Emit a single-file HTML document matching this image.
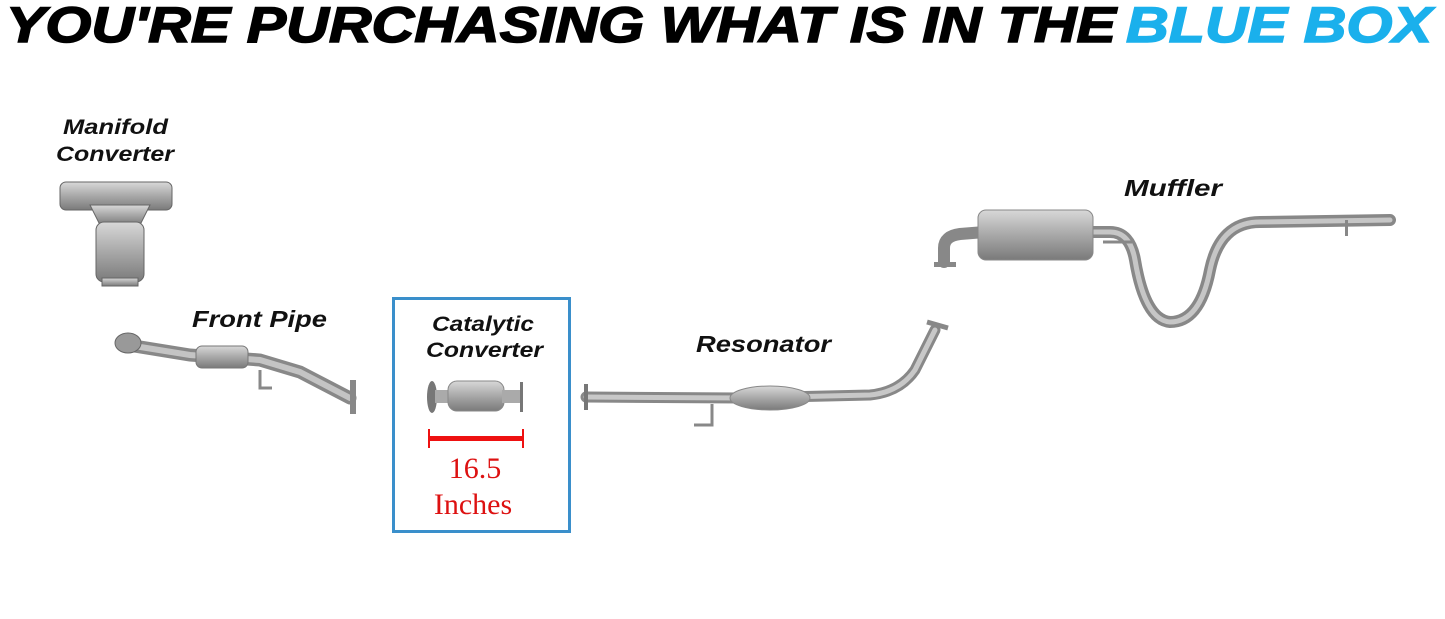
<!DOCTYPE html>
<html><head><meta charset="utf-8"><style>
html,body{margin:0;padding:0;background:#fff;}
svg{display:block}
</style></head><body>
<svg width="1445" height="619" viewBox="0 0 1445 619" xmlns="http://www.w3.org/2000/svg" font-family="Liberation Sans, sans-serif">
<defs>
<linearGradient id="g" x1="0" y1="0" x2="0" y2="1">
<stop offset="0" stop-color="#d8d8d8"/><stop offset="0.5" stop-color="#a8a8a8"/><stop offset="1" stop-color="#7a7a7a"/>
</linearGradient>
</defs>
<!-- Title -->
<text x="6" y="42" font-size="50" font-weight="bold" font-style="italic" textLength="1110" lengthAdjust="spacingAndGlyphs" fill="#000" stroke="#000" stroke-width="1.5">YOU'RE PURCHASING WHAT IS IN THE</text>
<text x="1126" y="42" font-size="50" font-weight="bold" font-style="italic" textLength="306" lengthAdjust="spacingAndGlyphs" fill="#1ab0ec" stroke="#1ab0ec" stroke-width="1.5">BLUE BOX</text>

<!-- Labels -->
<g font-weight="bold" font-style="italic" font-size="21" fill="#111" lengthAdjust="spacingAndGlyphs">
<text x="63" y="134" textLength="105" lengthAdjust="spacingAndGlyphs">Manifold</text>
<text x="56" y="161" textLength="118" lengthAdjust="spacingAndGlyphs">Converter</text>
<text x="192" y="327" font-size="23" textLength="135" lengthAdjust="spacingAndGlyphs">Front Pipe</text>
<text x="432" y="331" textLength="102" lengthAdjust="spacingAndGlyphs">Catalytic</text>
<text x="426" y="357" textLength="117" lengthAdjust="spacingAndGlyphs">Converter</text>
<text x="696" y="352" font-size="23" textLength="135" lengthAdjust="spacingAndGlyphs">Resonator</text>
<text x="1124" y="196" font-size="23" textLength="98" lengthAdjust="spacingAndGlyphs">Muffler</text>
</g>

<!-- Manifold converter -->
<g fill="url(#g)" stroke="#666" stroke-width="1">
<rect x="60" y="182" width="112" height="28" rx="6"/>
<path d="M90 205 L150 205 L140 225 L100 225 Z"/>
<rect x="96" y="222" width="48" height="60" rx="8"/>
<rect x="102" y="278" width="36" height="8"/>
</g>

<!-- Front pipe -->
<g fill="none" stroke-linecap="round">
<path d="M128 345 L190 355 L260 360 L300 372 L350 398" stroke="#888" stroke-width="13"/>
<path d="M128 345 L190 355 L260 360 L300 372 L350 398" stroke="#c4c4c4" stroke-width="6"/>
</g>
<rect x="196" y="346" width="52" height="22" rx="6" fill="url(#g)" stroke="#777"/>
<ellipse cx="128" cy="343" rx="13" ry="10" fill="#999" stroke="#666"/>
<rect x="350" y="380" width="6" height="34" fill="#888"/>
<path d="M260 370 L260 388 L272 388" stroke="#888" stroke-width="3" fill="none"/>

<!-- Blue box -->
<rect x="393.5" y="298.5" width="176" height="233" fill="none" stroke="#3a8fcb" stroke-width="3"/>
<!-- Cat converter -->
<ellipse cx="432" cy="397" rx="5" ry="16" fill="#777"/>
<rect x="435" y="390" width="16" height="13" fill="#aaa"/>
<rect x="448" y="381" width="56" height="30" rx="9" fill="url(#g)" stroke="#888"/>
<rect x="502" y="390" width="18" height="13" fill="#aaa"/>
<rect x="520" y="382" width="3" height="30" fill="#777"/>
<rect x="428" y="436" width="96" height="5" fill="#e11"/>
<rect x="428" y="429" width="2" height="19" fill="#e11"/>
<rect x="522" y="429" width="2" height="19" fill="#e11"/>
<text x="475" y="478" text-anchor="middle" font-family="Liberation Serif, serif" font-size="30" fill="#d11">16.5</text>
<text x="473" y="514" text-anchor="middle" font-family="Liberation Serif, serif" font-size="30" fill="#d11">Inches</text>

<!-- Resonator pipe -->
<g fill="none" stroke-linecap="round">
<path d="M586 397 L740 398 L870 395 Q900 392 915 370 L935 330" stroke="#888" stroke-width="11"/>
<path d="M586 397 L740 398 L870 395 Q900 392 915 370 L935 330" stroke="#c8c8c8" stroke-width="5"/>
</g>
<rect x="584" y="384" width="4" height="26" fill="#777"/>
<ellipse cx="770" cy="398" rx="40" ry="12" fill="url(#g)" stroke="#888"/>
<path d="M712 404 L712 425 L694 425" stroke="#888" stroke-width="3" fill="none"/>
<path d="M927 322 L948 328" stroke="#888" stroke-width="5"/>

<!-- Muffler -->
<g fill="none" stroke-linecap="round">
<path d="M944 262 L944 248 Q944 236 960 234 L985 232" stroke="#888" stroke-width="12"/>
<path d="M1090 232 L1110 232 Q1130 232 1135 260 Q1145 320 1170 322 Q1200 322 1210 270 Q1220 222 1260 222 L1390 220" stroke="#888" stroke-width="12"/>
<path d="M1090 232 L1110 232 Q1130 232 1135 260 Q1145 320 1170 322 Q1200 322 1210 270 Q1220 222 1260 222 L1390 220" stroke="#c6c6c6" stroke-width="5"/>
</g>
<rect x="978" y="210" width="115" height="50" rx="8" fill="url(#g)" stroke="#888"/>
<rect x="934" y="262" width="22" height="5" fill="#888"/>
<path d="M1103 242 L1132 242" stroke="#888" stroke-width="3"/>
<rect x="1345" y="220" width="3" height="16" fill="#888"/>
</svg>
</body></html>
